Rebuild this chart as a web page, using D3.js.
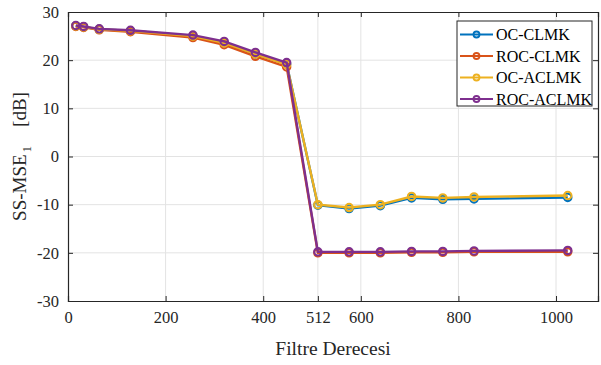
<!DOCTYPE html>
<html>
<head>
<meta charset="utf-8">
<script src="https://cdn.jsdelivr.net/npm/d3@7"></script>
<style>
  body { margin: 0; background: #fff; }
  svg, svg text { font-family: "Liberation Serif", "Times New Roman", serif !important; }
</style>
</head>
<body>
<div id="chart"></div>
<script>
// filter orders (x values)
const filterOrders = [16, 32, 64, 128, 256, 320, 384, 448, 512, 576, 640, 704, 768, 832, 1024]

const seriesNames = ["OC-CLMK", "ROC-CLMK", "OC-ACLMK", "ROC-ACLMK"]
const seriesColors = ["#0072BD", "#D95319", "#EDB120", "#7E2F8E"]

const ocClmk   = [27.1, 26.9, 26.4, 26.1, 25.0, 23.6, 21.3, 19.2, -10.1, -10.8, -10.2, -8.6, -8.9, -8.8, -8.5]
const rocClmk  = [27.0, 26.8, 26.3, 25.9, 24.7, 23.2, 20.8, 18.6, -20.0, -20.0, -20.0, -19.9, -19.9, -19.8, -19.8]
const ocAclmk  = [27.1, 26.9, 26.4, 26.1, 25.0, 23.6, 21.3, 19.1, -10.0, -10.6, -10.0, -8.3, -8.6, -8.4, -8.1]
const rocAclmk = [27.2, 27.0, 26.5, 26.2, 25.2, 23.9, 21.6, 19.5, -19.8, -19.8, -19.8, -19.7, -19.7, -19.6, -19.5]

const xTicks = [0, 200, 400, 512, 600, 800, 1000]
const yTicks = [-30, -20, -10, 0, 10, 20, 30]

const allSeries = [ocClmk, rocClmk, ocAclmk, rocAclmk]

const W = 601, H = 365
const MARGIN = { LEFT: 68, RIGHT: 3, TOP: 12, BOTTOM: 64 }
const AXIS = "#262626"

const svg = d3.select("#chart").append("svg")
  .attr("width", W)
  .attr("height", H)

const x = d3.scaleLinear().domain([0, 1086]).range([MARGIN.LEFT, W - MARGIN.RIGHT])
const y = d3.scaleLinear().domain([-30, 30]).range([H - MARGIN.BOTTOM, MARGIN.TOP])

// grid
const grid = svg.append("g").attr("class", "grid")
grid.selectAll(".gx").data(xTicks.slice(1)).enter().append("line")
  .attr("x1", d => x(d)).attr("x2", d => x(d))
  .attr("y1", y(-30)).attr("y2", y(30))
  .attr("stroke", "#e3e3e3").attr("stroke-width", 1)
grid.selectAll(".gy").data(yTicks.slice(1, -1)).enter().append("line")
  .attr("x1", x(0)).attr("x2", x(1086))
  .attr("y1", d => y(d)).attr("y2", d => y(d))
  .attr("stroke", "#e3e3e3").attr("stroke-width", 1)

// axes (ticks inward, MATLAB style), plain hyphen for negatives
const fmt = d => String(d)
const xAxisCall = d3.axisBottom(x).tickValues(xTicks).tickSize(-5).tickPadding(10).tickFormat(fmt)
const yAxisCall = d3.axisLeft(y).tickValues(yTicks).tickSize(-5).tickPadding(9).tickFormat(fmt)

const xAxis = svg.append("g")
  .attr("transform", `translate(0, ${y(-30)})`)
  .call(xAxisCall)
const yAxis = svg.append("g")
  .attr("transform", `translate(${x(0)}, 0)`)
  .call(yAxisCall)

const xTop = svg.append("g")
  .attr("transform", `translate(0, ${y(30)})`)
  .call(d3.axisTop(x).tickValues(xTicks).tickSize(-5).tickFormat(""))
const yRight = svg.append("g")
  .attr("transform", `translate(${x(1086)}, 0)`)
  .call(d3.axisRight(y).tickValues(yTicks).tickSize(-5).tickFormat(""))

;[xAxis, yAxis, xTop, yRight].forEach(a => {
  a.attr("font-family", null).attr("font-size", "16.5px")
  a.select(".domain").attr("stroke", AXIS).attr("stroke-width", 1.2)
  a.selectAll(".tick line").attr("stroke", AXIS)
  a.selectAll(".tick text").attr("fill", AXIS)
})

// lines
const line = d3.line()
  .x(d => x(d[0]))
  .y(d => y(d[1]))

allSeries.forEach((vals, i) => {
  const data = filterOrders.map((f, j) => [f, vals[j]])
  const g = svg.append("g").attr("class", "series")
  g.append("path")
    .datum(data)
    .attr("d", line)
    .attr("fill", "none")
    .attr("stroke", seriesColors[i])
    .attr("stroke-width", 2.4)
  g.selectAll("circle").data(data).enter().append("circle")
    .attr("cx", d => x(d[0]))
    .attr("cy", d => y(d[1]))
    .attr("r", 3.7)
    .attr("fill", "none")
    .attr("stroke", seriesColors[i])
    .attr("stroke-width", 2.1)
})

// axis labels
svg.append("text")
  .attr("x", (x(0) + x(1086)) / 2)
  .attr("y", 355)
  .attr("text-anchor", "middle")
  .attr("font-size", "19.5px")
  .attr("fill", AXIS)
  .text("Filtre Derecesi")

const yLabel = svg.append("text")
  .attr("transform", `translate(26, ${(y(-30) + y(30)) / 2}) rotate(-90)`)
  .attr("text-anchor", "middle")
  .attr("font-size", "19px")
  .attr("fill", AXIS)
yLabel.append("tspan").text("SS-MSE")
yLabel.append("tspan").attr("dy", 5).attr("dx", 2).attr("font-size", "13px").text("1")
yLabel.append("tspan").attr("dy", -5).attr("dx", 19).text("[dB]")

// legend
const legend = svg.append("g").attr("transform", "translate(457, 21)")
legend.append("rect")
  .attr("width", 135)
  .attr("height", 85)
  .attr("fill", "#fff")
  .attr("stroke", AXIS)
  .attr("stroke-width", 1)

const legendRow = legend.selectAll(".legendRow")
  .data(seriesNames)
  .enter().append("g")
    .attr("class", "legendRow")
    .attr("transform", (d, i) => `translate(0, ${13.5 + i * 21.5})`)

legendRow.append("line")
  .attr("x1", 3).attr("x2", 36)
  .attr("stroke", (d, i) => seriesColors[i])
  .attr("stroke-width", 2.2)
legendRow.append("circle")
  .attr("cx", 19.5).attr("r", 3)
  .attr("fill", "none")
  .attr("stroke", (d, i) => seriesColors[i])
  .attr("stroke-width", 1.8)
legendRow.append("text")
  .attr("x", 39)
  .attr("y", 5.5)
  .attr("font-size", "16px")
  .attr("fill", "#000")
  .text(d => d)
</script>
</body>
</html>
